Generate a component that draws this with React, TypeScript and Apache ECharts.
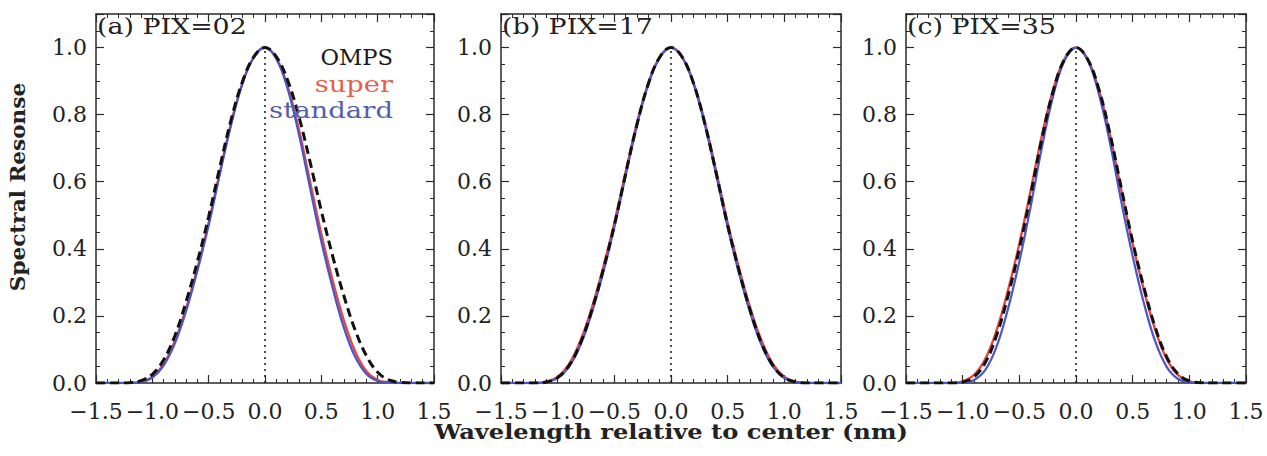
import React, { useEffect, useRef } from "react";
import * as echarts from "echarts";

// Wavelength relative to center (nm)
const wavelength = [
  -1.5, -1.4, -1.3, -1.2, -1.1, -1.0, -0.9, -0.8, -0.7, -0.6, -0.5, -0.4, -0.3, -0.2, -0.1, 0,
  0.1, 0.2, 0.3, 0.4, 0.5, 0.6, 0.7, 0.8, 0.9, 1.0, 1.1, 1.2, 1.3, 1.4, 1.5,
];

// Panel (a) PIX=02
const ompsA = [0, 0, 0, 0.001, 0.007, 0.026, 0.069, 0.141, 0.243, 0.362, 0.496, 0.645, 0.786, 0.899, 0.972, 1.0,
  0.973, 0.903, 0.795, 0.659, 0.513, 0.379, 0.26, 0.158, 0.081, 0.032, 0.009, 0.002, 0, 0, 0];
const superA = [0, 0, 0, 0, 0.004, 0.018, 0.056, 0.125, 0.223, 0.343, 0.478, 0.63, 0.776, 0.894, 0.971, 1.0,
  0.969, 0.884, 0.756, 0.6, 0.444, 0.306, 0.187, 0.094, 0.035, 0.009, 0.002, 0, 0, 0, 0];
const standardA = [0, 0, 0, 0, 0.003, 0.016, 0.052, 0.118, 0.215, 0.335, 0.47, 0.624, 0.771, 0.892, 0.971, 1.0,
  0.967, 0.878, 0.743, 0.581, 0.422, 0.284, 0.165, 0.078, 0.027, 0.006, 0.001, 0, 0, 0, 0];

// Panel (b) PIX=17
const ompsB = [0, 0, 0, 0, 0.003, 0.016, 0.052, 0.118, 0.215, 0.335, 0.47, 0.624, 0.771, 0.892, 0.971, 1.0,
  0.971, 0.892, 0.771, 0.624, 0.47, 0.335, 0.215, 0.118, 0.052, 0.016, 0.003, 0, 0, 0, 0];
const superB = [0, 0, 0, 0, 0.004, 0.018, 0.056, 0.125, 0.223, 0.343, 0.478, 0.63, 0.776, 0.894, 0.971, 1.0,
  0.971, 0.894, 0.776, 0.63, 0.478, 0.343, 0.223, 0.125, 0.056, 0.018, 0.004, 0, 0, 0, 0];
const standardB = [0, 0, 0, 0, 0.003, 0.015, 0.048, 0.112, 0.208, 0.327, 0.464, 0.618, 0.768, 0.89, 0.97, 1.0,
  0.97, 0.89, 0.768, 0.618, 0.464, 0.327, 0.208, 0.112, 0.048, 0.015, 0.003, 0, 0, 0, 0];

// Panel (c) PIX=35
const ompsC = [0, 0, 0, 0, 0, 0.003, 0.018, 0.061, 0.143, 0.26, 0.4, 0.561, 0.73, 0.872, 0.966, 1.0,
  0.967, 0.878, 0.743, 0.581, 0.422, 0.284, 0.165, 0.078, 0.027, 0.006, 0.001, 0, 0, 0, 0];
const superC = [0, 0, 0, 0, 0, 0.005, 0.024, 0.072, 0.158, 0.276, 0.415, 0.574, 0.739, 0.876, 0.967, 1.0,
  0.967, 0.876, 0.739, 0.574, 0.415, 0.276, 0.158, 0.072, 0.024, 0.005, 0, 0, 0, 0, 0];
const standardC = [0, 0, 0, 0, 0, 0.001, 0.009, 0.039, 0.109, 0.221, 0.362, 0.526, 0.704, 0.858, 0.962, 1.0,
  0.964, 0.864, 0.715, 0.54, 0.378, 0.237, 0.123, 0.048, 0.012, 0.002, 0, 0, 0, 0, 0];

const panelTitles = ["(a) PIX=02", "(b) PIX=17", "(c) PIX=35"];
const legendNames = ["OMPS", "super", "standard"];
const centerLine = [[0, 0], [0, 1]];
const xAxisTitle = "Wavelength relative to center (nm)";
const yAxisTitle = "Spectral Resonse";

const panels = [
  { omps: ompsA, sup: superA, std: standardA },
  { omps: ompsB, sup: superB, std: standardB },
  { omps: ompsC, sup: superC, std: standardC },
];

const FONT = "'DejaVu Serif', serif";
const AXIS_COLOR = "#2a2a2a";
const RED = "#e8463a";
const BLUE = "#4a55c8";
const gridLefts = [96, 501, 906];
const gridWidths = [338, 340, 340];
const GRID_TOP = 14;
const GRID_H = 369;

const pairs = (ys: number[]) => wavelength.map((x, i) => [x, ys[i]]);
const fmt = (v: number) => v.toFixed(1).replace("-", "\u2212");

export default function App() {
  const ref = useRef<HTMLDivElement>(null);

  useEffect(() => {
    const chart = echarts.init(ref.current!, null, { renderer: "svg" });

    const grid: any[] = [];
    const xAxis: any[] = [];
    const yAxis: any[] = [];
    const series: any[] = [];
    const graphic: any[] = [];

    const tickCommon = {
      axisLine: { show: true, onZero: false, lineStyle: { color: AXIS_COLOR, width: 1.5 } },
      axisTick: { show: true, inside: true, length: 8, lineStyle: { color: AXIS_COLOR, width: 1.2 } },
      splitLine: { show: false },
    };

    panels.forEach((p, i) => {
      grid.push({ left: gridLefts[i], top: GRID_TOP, width: gridWidths[i], height: GRID_H, containLabel: false });
      ["bottom", "top"].forEach((pos) => {
        xAxis.push({
          gridIndex: i,
          type: "value",
          position: pos,
          min: -1.5,
          max: 1.5,
          interval: 0.5,
          ...tickCommon,
          minorTick: { show: true, splitNumber: 5, length: 4, lineStyle: { color: AXIS_COLOR, width: 1 } },
          axisLabel: {
            show: pos === "bottom",
            margin: 17,
            fontFamily: FONT,
            fontSize: 22,
            color: "#222",
            formatter: (v: number) => fmt(v),
          },
        });
      });
      ["left", "right"].forEach((pos) => {
        yAxis.push({
          gridIndex: i,
          type: "value",
          position: pos,
          min: 0,
          max: 1.1,
          interval: 0.2,
          ...tickCommon,
          minorTick: { show: true, splitNumber: 4, length: 4, lineStyle: { color: AXIS_COLOR, width: 1 } },
          axisLabel: {
            show: pos === "left",
            showMaxLabel: false,
            margin: 9,
            fontFamily: FONT,
            fontSize: 22,
            color: "#222",
            formatter: (v: number) => (v > 1.05 ? "" : v.toFixed(1)),
          },
        });
      });

      const xi = i * 2;
      const yi = i * 2;
      series.push({
        type: "line",
        xAxisIndex: xi,
        yAxisIndex: yi,
        data: centerLine,
        symbol: "none",
        lineStyle: { color: "#222", width: 1.6, type: [2, 4] },
        z: 1,
      });
      series.push({
        name: "super",
        type: "line",
        xAxisIndex: xi,
        yAxisIndex: yi,
        data: pairs(p.sup),
        symbol: "none",
        smooth: 0.4,
        lineStyle: { color: RED, width: 2.4 },
        z: 2,
      });
      series.push({
        name: "standard",
        type: "line",
        xAxisIndex: xi,
        yAxisIndex: yi,
        data: pairs(p.std),
        symbol: "none",
        smooth: 0.4,
        lineStyle: { color: BLUE, width: 2.2 },
        z: 3,
      });
      series.push({
        name: "OMPS",
        type: "line",
        xAxisIndex: xi,
        yAxisIndex: yi,
        data: pairs(p.omps),
        symbol: "none",
        smooth: 0.4,
        lineStyle: { color: "#111", width: 3, type: [9, 5] },
        z: 4,
      });

      graphic.push({
        type: "text",
        x: gridLefts[i] + 1,
        y: 26,
        scaleX: 1.22,
        z: 10,
        style: {
          text: panelTitles[i],
          font: `22px ${FONT}`,
          fill: "#222",
          align: "left",
          verticalAlign: "middle",
        },
      });
    });

    const legendColors = ["#1a1a1a", "#e8604c", "#5560a8"];
    const legendY = [57, 84, 110];
    const legendScale = [1.03, 1.24, 1.25];
    legendNames.forEach((n, k) => {
      graphic.push({
        type: "text",
        x: 393,
        y: legendY[k],
        scaleX: legendScale[k],
        z: 10,
        style: {
          text: n,
          font: `22px ${FONT}`,
          fill: legendColors[k],
          align: "right",
          verticalAlign: "middle",
        },
      });
    });

    graphic.push({
      type: "text",
      x: 671,
      y: 432,
      scaleX: 1.15,
      style: {
        text: xAxisTitle,
        font: `bold 21px ${FONT}`,
        fill: "#222",
        align: "center",
        verticalAlign: "middle",
      },
    });
    graphic.push({
      type: "text",
      x: 18,
      y: 187,
      rotation: Math.PI / 2,
      scaleX: 1.08,
      style: {
        text: yAxisTitle,
        font: `bold 20px ${FONT}`,
        fill: "#222",
        align: "center",
        verticalAlign: "middle",
      },
    });

    chart.setOption({
      animation: false,
      backgroundColor: "#ffffff",
      grid,
      xAxis,
      yAxis,
      series,
      graphic,
    });

    return () => chart.dispose();
  }, []);

  return (
    <div
      ref={ref}
      style={{ position: "absolute", left: 0, top: 0, width: 1267, height: 456, background: "#fff" }}
    />
  );
}
